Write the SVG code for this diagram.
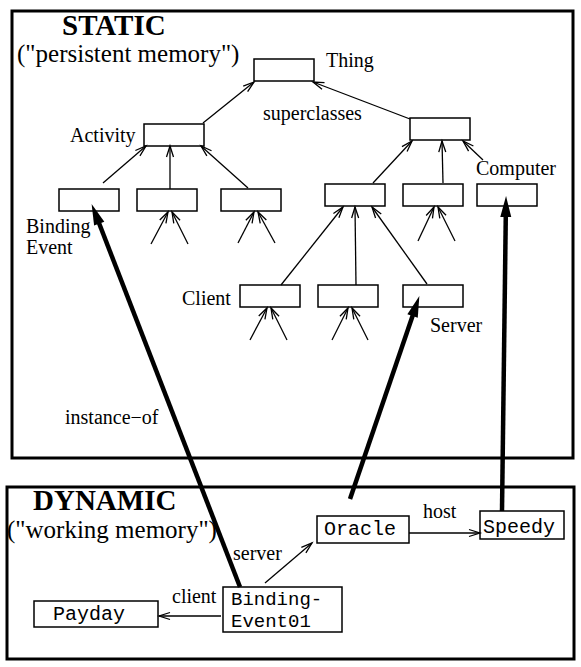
<svg xmlns="http://www.w3.org/2000/svg" width="581" height="667" viewBox="0 0 581 667">
<style>
.frame{fill:none;stroke:#000;stroke-width:3}
.node{fill:#fff;stroke:#000;stroke-width:1.5}
.lbl{font-family:"Liberation Serif","Times New Roman",serif;font-size:20px;fill:#000}
.sub{font-family:"Liberation Serif","Times New Roman",serif;font-size:25px;fill:#000}
.head{font-family:"Liberation Serif","Times New Roman",serif;font-size:29px;font-weight:bold;fill:#000}
.mono{font-family:"Liberation Mono","Courier New",monospace;font-size:20px;fill:#000}
.mono2{font-family:"Liberation Mono","Courier New",monospace;font-size:19px;fill:#000}
.thin{fill:none;stroke:#000;stroke-width:1.3;marker-end:url(#open)}
.thick{fill:none;stroke:#000;stroke-width:4.5;marker-end:url(#solid)}
</style>
<defs>
<marker id="open" markerUnits="userSpaceOnUse" markerWidth="14" markerHeight="10" viewBox="-12 -5 14 10" refX="0" refY="0" orient="auto" overflow="visible">
<path d="M -11 -3.5 L 0 0 L -11 3.5" fill="none" stroke="#000" stroke-width="1.3"/>
</marker>
<marker id="solid" markerUnits="userSpaceOnUse" markerWidth="22" markerHeight="12" viewBox="0 -6 22 12" refX="10" refY="0" orient="auto" overflow="visible">
<path d="M 0 -5.5 L 21 0 L 0 5.5 z" fill="#000"/>
</marker>
</defs>
<g id="static-frame">
<rect class="frame" x="12" y="11" width="561" height="447"/>
<text class="head" x="62" y="35">STATIC</text>
<text class="sub" x="17" y="62">("persistent memory")</text>
</g>
<g id="dynamic-frame">
<rect class="frame" x="7" y="487" width="567" height="172"/>
<text class="head" x="33" y="510">DYNAMIC</text>
<text class="sub" x="7" y="538">("working memory")</text>
</g>
<g id="thing"><rect class="node" x="254" y="59" width="60" height="22"/><text class="lbl" x="326" y="67">Thing</text></g>
<g id="activity"><rect class="node" x="144" y="124" width="60" height="22"/><text class="lbl" x="70" y="142">Activity</text></g>
<g id="binding-event"><rect class="node" x="59" y="189" width="60" height="22"/><text class="lbl" x="26" y="233">Binding</text><text class="lbl" x="26" y="254">Event</text></g>
<g id="activity-sub2"><rect class="node" x="137" y="189" width="60" height="22"/></g>
<g id="activity-sub3"><rect class="node" x="221" y="189" width="60" height="22"/></g>
<g id="superclass-right"><rect class="node" x="410" y="118" width="60" height="22"/></g>
<g id="right-sub1"><rect class="node" x="325" y="184" width="60" height="22"/></g>
<g id="right-sub2"><rect class="node" x="403" y="184" width="60" height="22"/></g>
<g id="computer"><rect class="node" x="477" y="184" width="60" height="22"/><text class="lbl" x="476" y="175">Computer</text></g>
<g id="client"><rect class="node" x="240" y="285" width="60" height="22"/><text class="lbl" x="182" y="305">Client</text></g>
<g id="level3-mid"><rect class="node" x="318" y="285" width="60" height="22"/></g>
<g id="server"><rect class="node" x="403" y="285" width="60" height="22"/><text class="lbl" x="430" y="332">Server</text></g>
<g id="oracle"><rect class="node" x="317" y="516" width="92" height="27"/><text class="mono" x="324" y="535">Oracle</text></g>
<g id="speedy"><rect class="node" x="480" y="511" width="84" height="28"/><text class="mono" x="483" y="533">Speedy</text></g>
<g id="binding-event01"><rect class="node" x="223" y="587" width="119" height="45"/><text class="mono2" x="231" y="605">Binding-</text><text class="mono2" x="231" y="627">Event01</text></g>
<g id="payday"><rect class="node" x="34" y="601" width="124" height="26"/><text class="mono" x="53" y="620">Payday</text></g>
<g id="connectors">
<path class="thin" d="M 203 123 L 254 82"/>
<path class="thin" d="M 410 119 L 313 82"/>
<path class="thin" d="M 103 183 L 146 146"/>
<path class="thin" d="M 170 189 L 170 146"/>
<path class="thin" d="M 248 188 L 201 146"/>
<path class="thin" d="M 373 183 L 412 141"/>
<path class="thin" d="M 443 183 L 442 141"/>
<path class="thin" d="M 483 160 L 463 141"/>
<path class="thin" d="M 281 285 L 343 207"/>
<path class="thin" d="M 356 285 L 355 207"/>
<path class="thin" d="M 427 284 L 372 207"/>
<path class="thin" d="M 151 244 L 168 212"/>
<path class="thin" d="M 188 244 L 172 212"/>
<path class="thin" d="M 238 243 L 254 212"/>
<path class="thin" d="M 275 243 L 258 212"/>
<path class="thin" d="M 418 241 L 434 207"/>
<path class="thin" d="M 455 241 L 438 207"/>
<path class="thin" d="M 250 340 L 267 308"/>
<path class="thin" d="M 287 340 L 271 308"/>
<path class="thin" d="M 332 340 L 348 308"/>
<path class="thin" d="M 368 340 L 352 308"/>
<path class="thin" d="M 221 616 L 159 616"/>
<path class="thin" d="M 265 583 L 312 543"/>
<path class="thin" d="M 409 533 L 480 533"/>
<path class="thick" d="M 240 587 L 95.6 214.3"/>
<path class="thick" d="M 350 499 L 415.8 306.5"/>
<path class="thick" d="M 502 511 L 505.9 207"/>
<text class="lbl" x="263" y="120">superclasses</text>
<text class="lbl" x="65" y="424">instance−of</text>
<text class="lbl" x="233" y="560">server</text>
<text class="lbl" x="172" y="603">client</text>
<text class="lbl" x="423" y="518">host</text>
</g>
</svg>
